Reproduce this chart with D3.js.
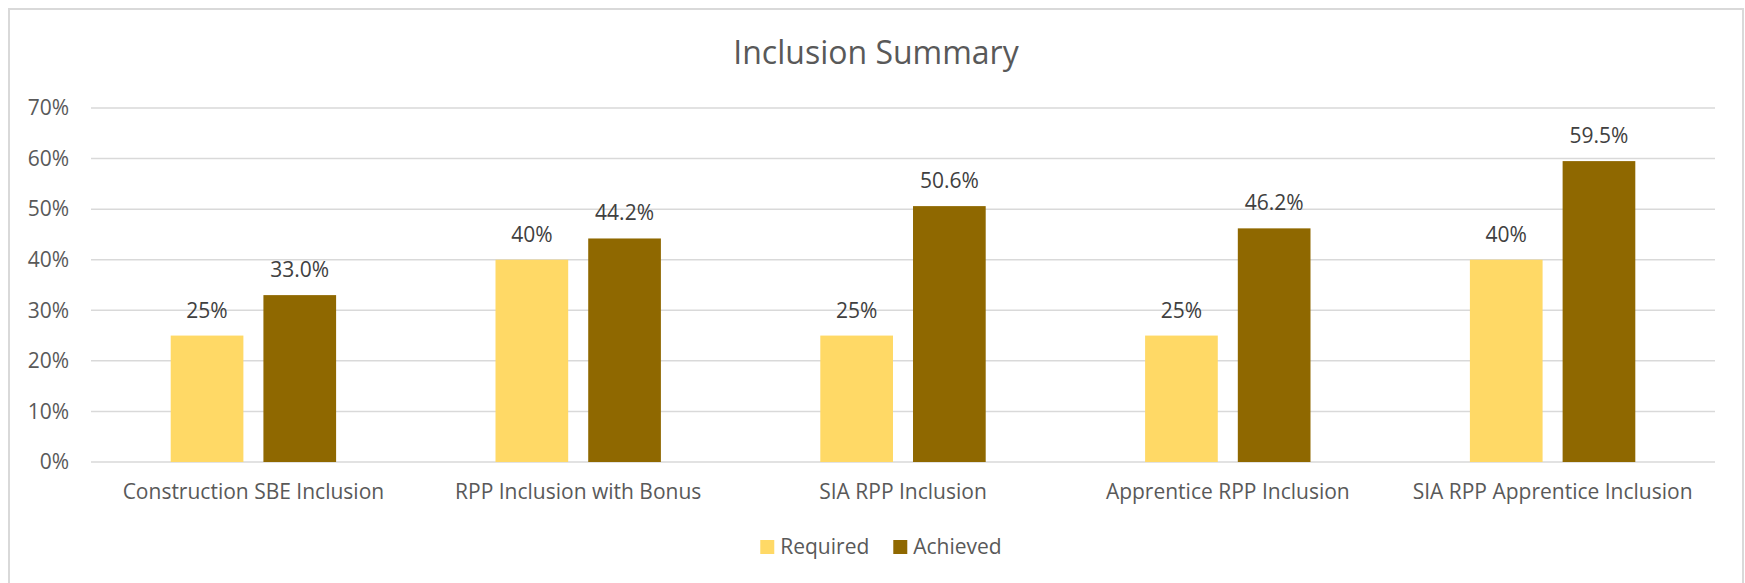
<!DOCTYPE html>
<html>
<head>
<meta charset="utf-8">
<script src="https://cdn.jsdelivr.net/npm/d3@7"></script>
<style>
	body { margin: 0; background: #fff; }
	text { font-family: 'Open Sans', 'Noto Sans', sans-serif; }
</style>
</head>
<body>
<div id="chart"></div>
<script>
// Chart data
const categories = [
	'Construction SBE Inclusion',
	'RPP Inclusion with Bonus',
	'SIA RPP Inclusion',
	'Apprentice RPP Inclusion',
	'SIA RPP Apprentice Inclusion',
];
const seriesNames = ['Required', 'Achieved'];
const required = [25, 40, 25, 25, 40];
const achieved = [33.0, 44.2, 50.6, 46.2, 59.5];
const yTicks = [0, 10, 20, 30, 40, 50, 60, 70];

const W = 1745;
const H = 583;
const plot = { left: 91, right: 1715, top: 108, bottom: 462 };
const colors = { Required: '#FFD966', Achieved: '#8F6800' };
const fs = 21;

const svg = d3
	.select('#chart')
	.append('svg')
	.attr('width', W)
	.attr('height', H);

// Chart area border
svg.append('rect')
	.attr('x', 9)
	.attr('y', 9)
	.attr('width', 1734)
	.attr('height', H)
	.attr('fill', '#fff')
	.attr('stroke', '#d9d9d9')
	.attr('stroke-width', 2);

// Scales
const y = d3.scaleLinear().domain([0, 70]).range([plot.bottom, plot.top]);
const x0 = d3.scaleBand().domain(categories).range([plot.left, plot.right]);
const groupW = 165.4;
const x1 = d3
	.scaleBand()
	.domain(seriesNames)
	.range([(x0.bandwidth() - groupW) / 2, (x0.bandwidth() + groupW) / 2])
	.paddingInner(0.216);

// Gridlines
svg.append('g')
	.selectAll('line')
	.data(yTicks)
	.enter()
	.append('line')
	.attr('x1', plot.left)
	.attr('x2', plot.right)
	.attr('y1', (d) => y(d))
	.attr('y2', (d) => y(d))
	.attr('stroke', '#d9d9d9')
	.attr('stroke-width', 1.5);

// Y tick labels
svg.append('g')
	.selectAll('text')
	.data(yTicks)
	.enter()
	.append('text')
	.attr('x', 69)
	.attr('y', (d) => y(d))
	.attr('dy', '0.35em')
	.attr('text-anchor', 'end')
	.attr('font-size', fs)
	.attr('fill', '#595959')
	.text((d) => d + '%');

// Bars
const rows = categories.map((c, i) => [
	{ cat: c, key: 'Required', value: required[i], label: required[i] + '%' },
	{ cat: c, key: 'Achieved', value: achieved[i], label: achieved[i].toFixed(1) + '%' },
]);

const groups = svg
	.append('g')
	.selectAll('g')
	.data(rows)
	.enter()
	.append('g')
	.attr('transform', (d) => `translate(${x0(d[0].cat)},0)`);

groups
	.selectAll('rect')
	.data((d) => d)
	.enter()
	.append('rect')
	.attr('x', (d) => x1(d.key))
	.attr('y', (d) => y(d.value))
	.attr('width', x1.bandwidth())
	.attr('height', (d) => y(0) - y(d.value))
	.attr('fill', (d) => colors[d.key]);

// Value labels
groups
	.selectAll('text')
	.data((d) => d)
	.enter()
	.append('text')
	.attr('x', (d) => x1(d.key) + x1.bandwidth() / 2)
	.attr('y', (d) => y(d.value) - 18)
	.attr('text-anchor', 'middle')
	.attr('font-size', fs)
	.attr('fill', '#404040')
	.text((d) => d.label);

// Category labels
svg.append('g')
	.selectAll('text')
	.data(categories)
	.enter()
	.append('text')
	.attr('x', (d) => x0(d) + x0.bandwidth() / 2)
	.attr('y', 499)
	.attr('text-anchor', 'middle')
	.attr('font-size', fs)
	.attr('fill', '#595959')
	.text((d) => d);

// Title
svg.append('text')
	.attr('x', 876)
	.attr('y', 64)
	.attr('text-anchor', 'middle')
	.attr('font-size', 32)
	.attr('fill', '#595959')
	.text('Inclusion Summary');

// Legend
const legend = svg.append('g');
let lx = 0;
seriesNames.forEach((name, i) => {
	const item = legend.append('g').attr('transform', `translate(${lx},0)`);
	item.append('rect')
		.attr('x', 0)
		.attr('y', 540)
		.attr('width', 14)
		.attr('height', 14)
		.attr('fill', colors[name]);
	const t = item
		.append('text')
		.attr('x', 20)
		.attr('y', 554)
		.attr('font-size', fs)
		.attr('fill', '#595959')
		.text(name);
	lx += 20 + t.node().getComputedTextLength() + 24;
});
const legendW = lx - 24;
legend.attr('transform', `translate(${881 - legendW / 2},0)`);
</script>
</body>
</html>
